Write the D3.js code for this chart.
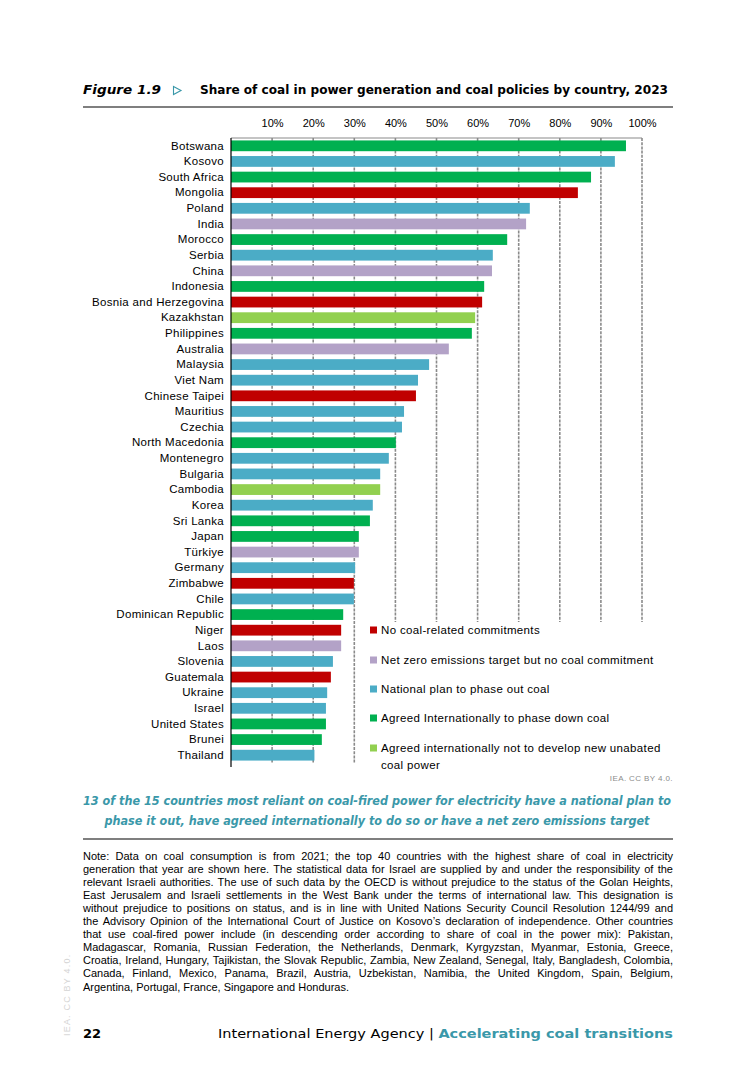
<!DOCTYPE html>
<html>
<head>
<meta charset="utf-8">
<script src="https://cdn.jsdelivr.net/npm/d3@7"></script>
<style>
  body { margin: 0; background: #fff; }
  svg { display: block; }
</style>
</head>
<body>
<div id="wrapper"></div>
<script>
// DATA
const countries = [
  `Botswana`, `Kosovo`, `South Africa`, `Mongolia`, `Poland`, `India`, `Morocco`, `Serbia`,
  `China`, `Indonesia`, `Bosnia and Herzegovina`, `Kazakhstan`, `Philippines`, `Australia`,
  `Malaysia`, `Viet Nam`, `Chinese Taipei`, `Mauritius`, `Czechia`, `North Macedonia`,
  `Montenegro`, `Bulgaria`, `Cambodia`, `Korea`, `Sri Lanka`, `Japan`, `Türkiye`, `Germany`,
  `Zimbabwe`, `Chile`, `Dominican Republic`, `Niger`, `Laos`, `Slovenia`, `Guatemala`,
  `Ukraine`, `Israel`, `United States`, `Brunei`, `Thailand`
];

const shares = [
  96.1, 93.4, 87.6, 84.4, 72.7, 71.8, 67.2, 63.7,
  63.5, 61.6, 61.1, 59.4, 58.6, 53.0,
  48.2, 45.5, 45.0, 42.1, 41.6, 40.1,
  38.4, 36.3, 36.3, 34.5, 33.8, 31.1, 31.1, 30.2,
  29.9, 29.9, 27.3, 26.8, 26.8, 24.8, 24.3,
  23.4, 23.1, 23.1, 22.1, 20.3
];

// policy codes: N = no commitment, Z = net zero only, P = national phase-out,
// D = agreed to phase down, U = agreed no new unabated
const policies = [
  `D`, `P`, `D`, `N`, `P`, `Z`, `D`, `P`,
  `Z`, `D`, `N`, `U`, `D`, `Z`,
  `P`, `P`, `N`, `P`, `P`, `D`,
  `P`, `P`, `U`, `P`, `D`, `D`, `Z`, `P`,
  `N`, `P`, `D`, `N`, `Z`, `P`, `N`,
  `P`, `P`, `D`, `D`, `P`
];

const policyKeys = [`N`, `Z`, `P`, `D`, `U`];
const policyLabels = [
  [`No coal-related commitments`],
  [`Net zero emissions target but no coal commitment`],
  [`National plan to phase out coal`],
  [`Agreed Internationally to phase down coal`],
  [`Agreed internationally not to develop new unabated`, `coal power`]
];
const policyColors = [`#C00000`, `#B3A2C7`, `#4BACC6`, `#00B050`, `#92D050`];

const tickValues = [10, 20, 30, 40, 50, 60, 70, 80, 90, 100];

const noteLines = [
  `Note: Data on coal consumption is from 2021; the top 40 countries with the highest share of coal in electricity`,
  `generation that year are shown here. The statistical data for Israel are supplied by and under the responsibility of the`,
  `relevant Israeli authorities. The use of such data by the OECD is without prejudice to the status of the Golan Heights,`,
  `East Jerusalem and Israeli settlements in the West Bank under the terms of international law. This designation is`,
  `without prejudice to positions on status, and is in line with United Nations Security Council Resolution 1244/99 and`,
  `the Advisory Opinion of the International Court of Justice on Kosovo’s declaration of independence. Other countries`,
  `that use coal-fired power include (in descending order according to share of coal in the power mix): Pakistan,`,
  `Madagascar, Romania, Russian Federation, the Netherlands, Denmark, Kyrgyzstan, Myanmar, Estonia, Greece,`,
  `Croatia, Ireland, Hungary, Tajikistan, the Slovak Republic, Zambia, New Zealand, Senegal, Italy, Bangladesh, Colombia,`,
  `Canada, Finland, Mexico, Panama, Brazil, Austria, Uzbekistan, Namibia, the United Kingdom, Spain, Belgium,`,
  `Argentina, Portugal, France, Singapore and Honduras.`
];

const subtitleLines = [
  `13 of the 15 countries most reliant on coal-fired power for electricity have a national plan to`,
  `phase it out, have agreed internationally to do so or have a net zero emissions target`
];

// LAYOUT
const W = 756;
const H = 1087;
const pageLeft = 83;
const pageRight = 673;
const plot = { left: 231, right: 642, top: 138, bottom: 763 };
const TEAL = `#3A98A9`;
const GOTHIC = `"DejaVu Sans", Verdana, sans-serif`;
const CAL = `"Liberation Sans Narrow", "Liberation Sans", Arial, sans-serif`;

const data = countries.map((c, i) => ({ country: c, value: shares[i], policy: policies[i] }));

const svg = d3.select(`#wrapper`)
  .append(`svg`)
  .attr(`width`, W)
  .attr(`height`, H);

// fit a text to a width
const fitWidth = (sel, target, adjust = `spacingAndGlyphs`) => {
  sel.each(function () {
    const w = this.getComputedTextLength();
    if (w > target) {
      d3.select(this).attr(`textLength`, target).attr(`lengthAdjust`, `spacingAndGlyphs`);
    } else if (adjust === `words`) {
      const spaces = (this.textContent.match(/ /g) || []).length;
      if (spaces) d3.select(this).attr(`word-spacing`, (target - w) / spaces);
    } else {
      d3.select(this).attr(`textLength`, target).attr(`lengthAdjust`, adjust);
    }
  });
};

// HEADER
svg.append(`text`)
  .attr(`x`, pageLeft)
  .attr(`y`, 94)
  .attr(`font-family`, GOTHIC)
  .attr(`font-weight`, `bold`)
  .attr(`font-style`, `italic`)
  .attr(`font-size`, 13)
  .attr(`fill`, `#000`)
  .text(`Figure 1.9`)
  .call(fitWidth, 78);

svg.append(`path`)
  .attr(`d`, `M173.5,86.5 L181,90.5 L173.5,94.5 Z`)
  .attr(`fill`, `none`)
  .attr(`stroke`, TEAL)
  .attr(`stroke-width`, 1.1);

svg.append(`text`)
  .attr(`x`, 200)
  .attr(`y`, 94)
  .attr(`font-family`, GOTHIC)
  .attr(`font-weight`, `bold`)
  .attr(`font-size`, 11.5)
  .attr(`fill`, `#000`)
  .text(`Share of coal in power generation and coal policies by country, 2023`)
  .call(fitWidth, 468);

svg.append(`line`)
  .attr(`x1`, pageLeft).attr(`x2`, pageRight)
  .attr(`y1`, 107).attr(`y2`, 107)
  .attr(`stroke`, `#7f7f7f`)
  .attr(`stroke-width`, 2);

// SCALES
const xScale = d3.scaleLinear()
  .domain([0, 100])
  .range([plot.left, plot.right]);

const yScale = d3.scaleBand()
  .domain(countries)
  .range([plot.top, plot.bottom])
  .paddingInner(0.31)
  .paddingOuter(0.155);

// GRID
const chart = svg.append(`g`).attr(`id`, `chart`);

chart.append(`g`)
  .attr(`class`, `grid`)
  .selectAll(`line`)
  .data(tickValues)
  .enter()
  .append(`line`)
  .attr(`x1`, d => xScale(d))
  .attr(`x2`, d => xScale(d))
  .attr(`y1`, plot.top)
  .attr(`y2`, plot.bottom)
  .attr(`stroke`, `#8a8a8a`)
  .attr(`stroke-width`, 1.6)
  .attr(`stroke-dasharray`, `3,1.2`);

chart.append(`line`)
  .attr(`x1`, plot.left).attr(`x2`, plot.right)
  .attr(`y1`, plot.top).attr(`y2`, plot.top)
  .attr(`stroke`, `#8a8a8a`)
  .attr(`stroke-width`, 1.2);

// BARS
chart.append(`g`)
  .attr(`class`, `bars`)
  .selectAll(`rect`)
  .data(data)
  .enter()
  .append(`rect`)
  .attr(`x`, xScale(0))
  .attr(`y`, d => yScale(d.country))
  .attr(`width`, d => xScale(d.value) - xScale(0))
  .attr(`height`, yScale.bandwidth())
  .attr(`fill`, d => policyColors[policyKeys.indexOf(d.policy)]);

// AXES
const xAxis = d3.axisTop(xScale)
  .tickValues(tickValues)
  .tickSize(0)
  .tickFormat(d => `${d}%`);

chart.append(`g`)
  .attr(`id`, `x-axis`)
  .attr(`transform`, `translate(0, 127)`)
  .call(xAxis)
  .call(g => g.select(`.domain`).remove())
  .call(g => g.selectAll(`.tick text`)
    .attr(`y`, 0)
    .attr(`dy`, 0)
    .attr(`font-family`, CAL)
    .attr(`font-size`, 11)
    .attr(`fill`, `#000`));

const yAxis = d3.axisLeft(yScale).tickSize(0).tickPadding(7);

chart.append(`g`)
  .attr(`id`, `y-axis`)
  .attr(`transform`, `translate(${plot.left}, 0)`)
  .call(yAxis)
  .call(g => g.select(`.domain`)
    .attr(`stroke`, `#000`)
    .attr(`stroke-width`, 1.2)
    .attr(`d`, `M0,${plot.top}V${plot.bottom + 4}`))
  .call(g => g.selectAll(`.tick text`)
    .attr(`font-family`, CAL)
    .attr(`font-size`, 11.5)
    .attr(`letter-spacing`, 0.3)
    .attr(`fill`, `#000`));

// LEGEND
const legend = chart.append(`g`).attr(`class`, `legend`);

legend.append(`rect`)
  .attr(`x`, 360)
  .attr(`y`, 622)
  .attr(`width`, 320)
  .attr(`height`, plot.bottom - 622 + 5)
  .attr(`fill`, `#fff`);

const legendY = [630, 660, 689, 718, 748];

const legendItem = legend.selectAll(`.legend-item`)
  .data(policyKeys)
  .enter()
  .append(`g`)
  .attr(`class`, `legend-item`)
  .attr(`transform`, (d, i) => `translate(370, ${legendY[i]})`);

legendItem.append(`rect`)
  .attr(`x`, 0)
  .attr(`y`, -3.5)
  .attr(`width`, 7)
  .attr(`height`, 7)
  .attr(`fill`, (d, i) => policyColors[i]);

legendItem.append(`text`)
  .attr(`font-family`, CAL)
  .attr(`font-size`, 11.5)
  .attr(`letter-spacing`, 0.35)
  .attr(`fill`, `#000`)
  .selectAll(`tspan`)
  .data((d, i) => policyLabels[i])
  .enter()
  .append(`tspan`)
  .attr(`x`, 11)
  .attr(`y`, (d, i) => 4 + i * 17)
  .text(d => d);

// SOURCE
svg.append(`text`)
  .attr(`x`, pageRight)
  .attr(`y`, 781)
  .attr(`text-anchor`, `end`)
  .attr(`font-family`, `"Liberation Sans", Arial, sans-serif`)
  .attr(`font-size`, 8)
  .attr(`letter-spacing`, 0.4)
  .attr(`fill`, `#8c8c8c`)
  .text(`IEA. CC BY 4.0.`);

// SUBTITLE
svg.append(`g`)
  .selectAll(`text`)
  .data(subtitleLines)
  .enter()
  .append(`text`)
  .attr(`x`, 377)
  .attr(`y`, (d, i) => 805 + i * 20)
  .attr(`text-anchor`, `middle`)
  .attr(`font-family`, GOTHIC)
  .attr(`font-weight`, `bold`)
  .attr(`font-style`, `italic`)
  .attr(`font-size`, 12.5)
  .attr(`fill`, TEAL)
  .text(d => d)
  .each(function (d, i) {
    d3.select(this).call(fitWidth, i === 0 ? 588 : 545);
  });

svg.append(`line`)
  .attr(`x1`, pageLeft).attr(`x2`, pageRight)
  .attr(`y1`, 839).attr(`y2`, 839)
  .attr(`stroke`, `#7f7f7f`)
  .attr(`stroke-width`, 2);

// NOTE
svg.append(`g`)
  .attr(`class`, `note`)
  .selectAll(`text`)
  .data(noteLines)
  .enter()
  .append(`text`)
  .attr(`x`, pageLeft)
  .attr(`y`, (d, i) => 859.5 + i * 13.1)
  .attr(`font-family`, CAL)
  .attr(`font-size`, 11)
  .attr(`fill`, `#000`)
  .text(d => d)
  .each(function (d, i) {
    if (i < noteLines.length - 1) d3.select(this).call(fitWidth, pageRight - pageLeft, `words`);
  });

// FOOTER
svg.append(`text`)
  .attr(`x`, pageLeft)
  .attr(`y`, 1038)
  .attr(`font-family`, GOTHIC)
  .attr(`font-weight`, `bold`)
  .attr(`font-size`, 13)
  .attr(`fill`, `#000`)
  .text(`22`);

const footer = svg.append(`text`)
  .attr(`x`, pageRight)
  .attr(`y`, 1038)
  .attr(`text-anchor`, `end`)
  .attr(`font-family`, GOTHIC)
  .attr(`font-size`, 12.5)
  .attr(`fill`, `#000`);

footer.append(`tspan`).text(`International Energy Agency  |  `);
footer.append(`tspan`)
  .attr(`font-weight`, `bold`)
  .attr(`fill`, TEAL)
  .text(`Accelerating coal transitions`);
footer.call(fitWidth, pageRight - 218);

svg.append(`text`)
  .attr(`transform`, `translate(70, 1036) rotate(-90)`)
  .attr(`font-family`, `"Liberation Sans", Arial, sans-serif`)
  .attr(`font-size`, 9)
  .attr(`letter-spacing`, 1.2)
  .attr(`fill`, `#d4d4d4`)
  .text(`IEA. CC BY 4.0.`);
</script>
</body>
</html>
